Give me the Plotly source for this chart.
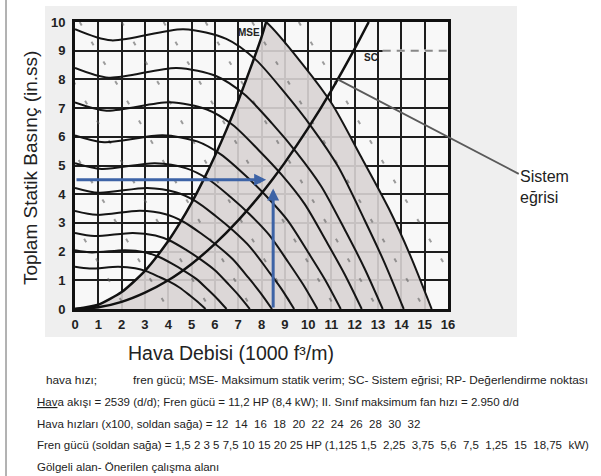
import plotly.graph_objects as go

# ---------------- data ----------------
fan_speeds = [12, 14, 16, 18, 20, 22, 24, 26, 28, 30, 32]   # x100 rpm
fan_x = {
    12: [0, 0.62, 1.85, 2.58, 3.08, 3.58, 4.03, 4.48, 4.93, 5.26, 5.6],
    14: [0, 0.72, 2.15, 2.99, 3.58, 4.16, 4.68, 5.2, 5.72, 6.11, 6.5],
    16: [0, 0.83, 2.48, 3.45, 4.13, 4.8, 5.4, 6.0, 6.6, 7.05, 7.5],
    18: [0, 0.93, 2.79, 3.89, 4.65, 5.41, 6.08, 6.76, 7.44, 7.94, 8.45],
    20: [0, 1.03, 3.1, 4.32, 5.17, 6.02, 6.77, 7.52, 8.27, 8.84, 9.4],
    22: [0, 1.14, 3.43, 4.78, 5.72, 6.66, 7.49, 8.32, 9.15, 9.78, 10.4],
    24: [0, 1.25, 3.76, 5.24, 6.27, 7.3, 8.21, 9.12, 10.03, 10.72, 11.4],
    26: [0, 1.35, 4.06, 5.66, 6.77, 7.87, 8.86, 9.84, 10.82, 11.56, 12.3],
    28: [0, 1.45, 4.36, 6.07, 7.26, 8.45, 9.5, 10.56, 11.62, 12.41, 13.2],
    30: [0, 1.55, 4.65, 6.49, 7.76, 9.02, 10.15, 11.28, 12.41, 13.25, 14.1],
    32: [0, 1.68, 5.05, 7.04, 8.2, 9.79, 11.02, 12.24, 13.46, 14.38, 15.3],
}
fan_y = {
    12: [1.47, 1.41, 1.47, 1.42, 1.31, 1.13, 0.96, 0.75, 0.47, 0.25, 0],
    14: [2.05, 1.97, 2.05, 1.98, 1.82, 1.58, 1.33, 1.05, 0.66, 0.35, 0],
    16: [2.65, 2.54, 2.65, 2.56, 2.36, 2.04, 1.72, 1.35, 0.85, 0.45, 0],
    18: [3.42, 3.28, 3.42, 3.3, 3.04, 2.63, 2.22, 1.74, 1.09, 0.58, 0],
    20: [4.22, 4.05, 4.22, 4.07, 3.76, 3.25, 2.74, 2.15, 1.35, 0.72, 0],
    22: [5.08, 4.88, 5.08, 4.9, 4.52, 3.91, 3.3, 2.59, 1.63, 0.86, 0],
    24: [6.05, 5.81, 6.05, 5.84, 5.38, 4.66, 3.93, 3.09, 1.94, 1.03, 0],
    26: [7.2, 6.91, 7.2, 6.95, 6.41, 5.54, 4.68, 3.67, 2.3, 1.22, 0],
    28: [8.4, 8.06, 8.4, 8.11, 7.48, 6.47, 5.46, 4.28, 2.69, 1.43, 0],
    30: [9.75, 9.36, 9.75, 9.41, 8.68, 7.51, 6.34, 4.97, 3.12, 1.66, 0],
    32: [11.0, 10.56, 11.0, 10.6, 10.0, 8.5, 7.15, 5.35, 3.5, 1.87, 0],
}
mse_x = [0, 1, 2, 3, 4, 4.5, 5, 5.5, 6, 6.5, 7, 7.5, 8, 8.2]
mse_y = [0, 0.15, 0.59, 1.33, 2.37, 3.0, 3.7, 4.48, 5.33, 6.25, 7.25, 8.33, 9.47, 10.0]
sc_x = [0, 1, 2, 3, 4, 5, 6, 7, 8, 8.5, 9, 10, 11, 12, 12.6]
sc_y = [0, 0.06, 0.25, 0.57, 1.0, 1.57, 2.27, 3.09, 4.03, 4.55, 5.1, 6.3, 7.62, 9.07, 10.0]
bhp_hp = [1.5, 2, 3, 5, 7.5, 10, 15, 20, 25]
bhp_x = {1.5: [-5.2, 2.2], 2: [-3.4, 4.0], 3: [-1.6, 5.8], 5: [0.2, 7.6], 7.5: [2.0, 9.4],
         10: [3.8, 11.2], 15: [5.6, 13.0], 20: [7.6, 15.0], 25: [9.6, 17.0]}
bhp_y = {hp: [10, 0] for hp in bhp_hp}
rp_flow, rp_pressure = 8.5, 4.5
x_ticks = list(range(0, 17))
y_ticks = list(range(0, 11))

legend_line = ["hava hızı;",
               "fren gücü; MSE- Maksimum statik verim; SC- Sistem eğrisi; RP- Değerlendirme noktası"]
footer_lines = [
    "Hava akışı = 2539 (d/d); Fren gücü = 11,2 HP (8,4 kW); II. Sınıf maksimum fan hızı = 2.950 d/d",
    "Hava hızları (x100, soldan sağa) = 12\u00a0 14\u00a0 16\u00a0 18\u00a0 20\u00a0 22\u00a0 24\u00a0 26\u00a0 28\u00a0 30\u00a0 32",
    "Fren gücü (soldan sağa) = 1,5 2 3 5 7,5 10 15 20 25 HP (1,125 1,5\u00a0 2,25\u00a0 3,75\u00a0 5,6\u00a0 7,5\u00a0 1,25\u00a0 15\u00a0 18,75\u00a0 kW)",
    "Gölgeli alan- Önerilen çalışma alanı",
]

# ---------------- layout geometry (pixels) ----------------
W, H = 601, 476
L, R, T, B = 75, 448, 22, 309


def pp(xp, yp):
    return (xp - L) / (R - L), (B - yp) / (B - T)


fig = go.Figure()

# shaded recommended area (between MSE and top fan curve)
c32x, c32y = fan_x[32], fan_y[32]
poly_x = mse_x + [x for x in c32x if x > mse_x[-1]] + [0]
poly_y = mse_y + [y for x, y in zip(c32x, c32y) if x > mse_x[-1]] + [0]
fig.add_trace(go.Scatter(x=poly_x, y=poly_y, fill="toself", mode="none",
                         fillcolor="rgba(216,211,211,0.9)", hoverinfo="skip"))

# brake horsepower dashed lines
for hp in bhp_hp:
    fig.add_trace(go.Scatter(x=bhp_x[hp], y=bhp_y[hp], mode="lines",
                             line=dict(color="rgba(95,95,95,0.6)", width=2, dash="4px,19px"),
                             hoverinfo="skip"))

# fan speed curves
for s in fan_speeds:
    fig.add_trace(go.Scatter(x=fan_x[s], y=fan_y[s], mode="lines",
                             line=dict(color="#151515", width=2, shape="spline", smoothing=0.8),
                             hoverinfo="skip"))

# MSE and SC
fig.add_trace(go.Scatter(x=mse_x, y=mse_y, mode="lines",
                         line=dict(color="#111", width=2.5, shape="spline", smoothing=0.6)))
fig.add_trace(go.Scatter(x=sc_x, y=sc_y, mode="lines",
                         line=dict(color="#111", width=2.5, shape="spline", smoothing=0.6)))

shapes = []
# scanned-image grey background
x0, y0 = pp(45, 337)
x1, y1 = pp(517, 6)
shapes.append(dict(type="rect", xref="paper", yref="paper", x0=x0, x1=x1, y0=y0, y1=y1,
                   fillcolor="#efefef", line=dict(width=0), layer="below"))
shapes.append(dict(type="rect", xref="x", yref="y", x0=0, x1=16, y0=0, y1=10,
                   fillcolor="#f8f8f8", line=dict(width=0), layer="below"))
# left page border
bx, _ = pp(6, 0)
shapes.append(dict(type="line", xref="paper", yref="paper", x0=bx, x1=bx,
                   y0=pp(0, 476)[1], y1=pp(0, 0)[1], line=dict(color="#666", width=1)))
# dashed part of y=9 line at right
shapes.append(dict(type="line", xref="x", yref="y", x0=13.2, x1=16, y0=9, y1=9,
                   line=dict(color="#f4f4f4", width=2.5)))
shapes.append(dict(type="line", xref="x", yref="y", x0=13.2, x1=16, y0=9, y1=9,
                   line=dict(color="#888", width=2, dash="8px,6px")))

ann = []
blue = "#3d63a6"
ann.append(dict(x=rp_flow - 0.3, y=rp_pressure, ax=0, ay=rp_pressure, xref="x", yref="y",
                axref="x", ayref="y", text="", showarrow=True, arrowhead=2, arrowsize=0.8,
                arrowwidth=3, arrowcolor=blue))
ann.append(dict(x=rp_flow, y=rp_pressure - 0.3, ax=rp_flow, ay=0, xref="x", yref="y",
                axref="x", ayref="y", text="", showarrow=True, arrowhead=2, arrowsize=0.8,
                arrowwidth=3, arrowcolor=blue))
# curve labels
ann.append(dict(x=7.45, y=9.62, xref="x", yref="y", text="<b>MSE</b>", showarrow=False,
                font=dict(family="Liberation Sans", size=10, color="#222")))
ann.append(dict(x=12.7, y=8.76, xref="x", yref="y", text="<b>SC</b>", showarrow=False,
                font=dict(family="Liberation Sans", size=10, color="#222")))
# system curve callout
ann.append(dict(x=11.27, y=8.0, xref="x", yref="y", text="Sistem<br>eğrisi", align="left",
                showarrow=True, arrowhead=0, arrowwidth=1.8, arrowcolor="#5a5a5a",
                ax=207, ay=108, font=dict(family="Liberation Sans", size=16, color="#222")))
# axis titles
ax_, ay_ = pp(30, 168)
ann.append(dict(x=ax_, y=ay_, xref="paper", yref="paper", text="Toplam Statik Basınç (in.ss)",
                textangle=-90, showarrow=False, xanchor="center", yanchor="middle",
                font=dict(family="Liberation Sans", size=19, color="#222")))
ax_, ay_ = pp(231, 353)
ann.append(dict(x=ax_, y=ay_, xref="paper", yref="paper", text="Hava Debisi (1000 f³/m)",
                showarrow=False, xanchor="center", yanchor="middle",
                font=dict(family="Liberation Sans", size=19.5, color="#222")))
# footer
ffont = dict(family="Liberation Sans", size=11.5, color="#222")
f1 = dict(family="Liberation Sans", size=11.8, color="#222")
ax_, ay_ = pp(44, 380)
ann.append(dict(x=ax_, y=ay_, xref="paper", yref="paper", text=legend_line[0], xanchor="left",
                yanchor="middle", showarrow=False, font=f1))
ax_, ay_ = pp(131, 380)
ann.append(dict(x=ax_, y=ay_, xref="paper", yref="paper", text=legend_line[1],
                xanchor="left", yanchor="middle", showarrow=False, font=f1))
for i, line in enumerate(footer_lines):
    txt = line
    if i == 0:
        txt = "<u>Hav</u>" + line[3:]
    ax_, ay_ = pp(35, 402 + 21.7 * i)
    ann.append(dict(x=ax_, y=ay_, xref="paper", yref="paper", text=txt, xanchor="left",
                    yanchor="middle", showarrow=False, font=ffont))

tickfont = dict(family="Liberation Sans", size=13, color="#222", weight="bold")
fig.update_layout(
    width=W, height=H,
    margin=dict(l=L, r=W - R, t=T, b=H - B, pad=0),
    paper_bgcolor="white", plot_bgcolor="#f8f8f8",
    showlegend=False,
    shapes=shapes, annotations=ann,
    xaxis=dict(range=[0, 16], tickvals=x_ticks, showgrid=True, gridcolor="#1e1e1e", gridwidth=2,
               zeroline=False, showline=True, mirror=True, linecolor="#111", linewidth=3,
               ticks="outside", ticklen=1, tickcolor="rgba(0,0,0,0)", tickfont=tickfont,
               fixedrange=True),
    yaxis=dict(range=[0, 10], tickvals=y_ticks, showgrid=True, gridcolor="#1e1e1e", gridwidth=2,
               zeroline=False, showline=True, mirror=True, linecolor="#111", linewidth=3,
               ticks="outside", ticklen=4, tickcolor="rgba(0,0,0,0)", tickfont=tickfont,
               fixedrange=True),
)

fig.write_html("out.html")
